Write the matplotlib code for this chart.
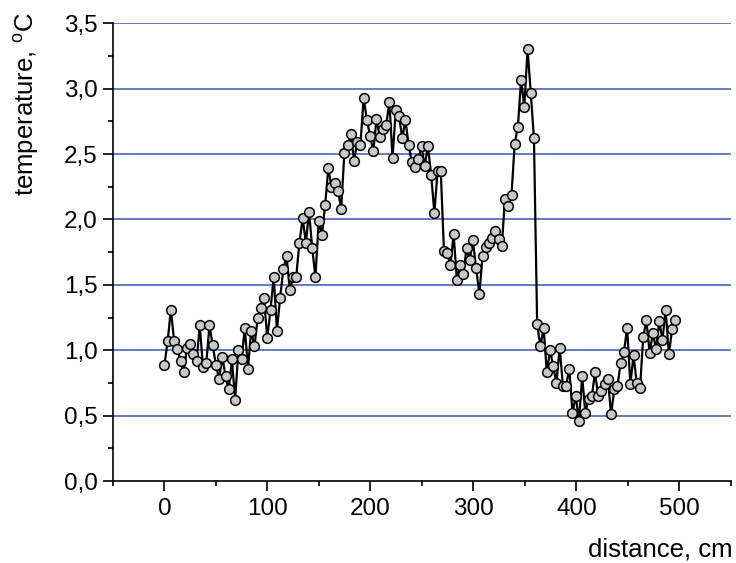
import matplotlib
matplotlib.use("Agg")
import matplotlib.pyplot as plt
from matplotlib.ticker import MultipleLocator, FuncFormatter

plt.rcParams['font.family'] = ['Liberation Sans', 'DejaVu Sans']
plt.rcParams['mathtext.fontset'] = 'custom'
plt.rcParams['mathtext.rm'] = 'Liberation Sans'

# distance along the sample, cm
distance = [
    0.0, 3.1, 6.2, 9.4, 12.5, 15.6, 18.7, 21.8, 25.0, 28.1,
    31.2, 34.3, 37.4, 40.6, 43.7, 46.8, 49.9, 53.0, 56.2, 59.3,
    62.4, 65.5, 68.6, 71.8, 74.9, 78.0, 81.1, 84.2, 87.4, 90.5,
    93.6, 96.7, 99.8, 103.0, 106.1, 109.2, 112.3, 115.4, 118.6, 121.7,
    124.8, 127.9, 131.0, 134.2, 137.3, 140.4, 143.5, 146.6, 149.8, 152.9,
    156.0, 159.1, 162.2, 165.4, 168.5, 171.6, 174.7, 177.8, 181.0, 184.1,
    187.2, 190.3, 193.4, 196.6, 199.7, 202.8, 205.9, 209.0, 212.2, 215.3,
    218.4, 221.5, 224.6, 227.8, 230.9, 234.0, 237.1, 240.2, 243.4, 246.5,
    249.6, 252.7, 255.8, 259.0, 262.1, 265.2, 268.3, 271.4, 274.6, 277.7,
    280.8, 283.9, 287.0, 290.2, 293.3, 296.4, 299.5, 302.6, 305.8, 308.9,
    312.0, 315.1, 318.2, 321.4, 324.5, 327.6, 330.7, 333.8, 337.0, 340.1,
    343.2, 346.3, 349.4, 352.6, 355.7, 358.8, 361.9, 365.0, 368.2, 371.3,
    374.4, 377.5, 380.6, 383.8, 386.9, 390.0, 393.1, 396.2, 399.4, 402.5,
    405.6, 408.7, 411.8, 415.0, 418.1, 421.2, 424.3, 427.4, 430.6, 433.7,
    436.8, 439.9, 443.0, 446.2, 449.3, 452.4, 455.5, 458.6, 461.8, 464.9,
    468.0, 471.1, 474.2, 477.4, 480.5, 483.6, 486.7, 489.8, 493.0, 496.1,
]

# temperature, C
temperature = [
    0.89, 1.07, 1.31, 1.07, 1.01, 0.92, 0.83, 1.02, 1.05, 0.97,
    0.92, 1.19, 0.87, 0.90, 1.19, 1.04, 0.89, 0.78, 0.95, 0.80,
    0.70, 0.93, 0.62, 1.00, 0.93, 1.17, 0.86, 1.15, 1.03, 1.25,
    1.32, 1.40, 1.09, 1.31, 1.56, 1.15, 1.40, 1.62, 1.72, 1.46,
    1.56, 1.56, 1.82, 2.01, 1.82, 2.06, 1.78, 1.56, 1.99, 1.88,
    2.11, 2.39, 2.25, 2.28, 2.22, 2.08, 2.51, 2.57, 2.65, 2.45,
    2.59, 2.57, 2.93, 2.76, 2.64, 2.52, 2.77, 2.63, 2.69, 2.72,
    2.90, 2.47, 2.84, 2.79, 2.62, 2.76, 2.57, 2.44, 2.40, 2.46,
    2.56, 2.41, 2.56, 2.34, 2.05, 2.37, 2.37, 1.76, 1.74, 1.65,
    1.89, 1.54, 1.65, 1.58, 1.78, 1.69, 1.84, 1.63, 1.43, 1.72,
    1.79, 1.82, 1.86, 1.91, 1.85, 1.80, 2.16, 2.10, 2.19, 2.58,
    2.71, 3.07, 2.86, 3.30, 2.97, 2.62, 1.20, 1.03, 1.17, 0.83,
    1.00, 0.88, 0.75, 1.02, 0.73, 0.73, 0.86, 0.52, 0.65, 0.46,
    0.80, 0.52, 0.63, 0.65, 0.83, 0.65, 0.69, 0.74, 0.78, 0.51,
    0.70, 0.73, 0.90, 0.99, 1.17, 0.74, 0.96, 0.75, 0.71, 1.10,
    1.23, 0.98, 1.13, 1.01, 1.22, 1.08, 1.31, 0.97, 1.16, 1.23,
]

y_ticks = [0.0, 0.5, 1.0, 1.5, 2.0, 2.5, 3.0, 3.5]
x_ticks = [0, 100, 200, 300, 400, 500]

fig = plt.figure(figsize=(7.36, 5.63), dpi=100)
ax = fig.add_axes([0.1535, 0.1456, 0.8395, 0.813])

# blue horizontal grid
for yv in y_ticks[1:]:
    ax.axhline(yv, color='#3358b8', lw=1.1, zorder=1)

ax.plot(distance, temperature, color='black', lw=1.6, marker='o',
        markersize=7, markerfacecolor='#c8c8c8', markeredgecolor='black',
        markeredgewidth=1.1, zorder=3)

ax.set_xlim(-50, 550)
ax.set_ylim(0, 3.5)
ax.set_xticks(x_ticks)
ax.set_yticks(y_ticks)
ax.xaxis.set_minor_locator(MultipleLocator(50))
ax.yaxis.set_minor_locator(MultipleLocator(0.25))
ax.yaxis.set_major_formatter(FuncFormatter(lambda v, p: f"{v:.1f}".replace('.', ',')))

for s in ['top', 'right']:
    ax.spines[s].set_visible(False)
for s in ['left', 'bottom']:
    ax.spines[s].set_linewidth(1.2)

ax.tick_params(which='major', direction='out', length=7, width=1.2, labelsize=17.5, pad=4)
ax.tick_params(which='minor', direction='out', length=3.8, width=1.2)
ax.tick_params(axis='x', which='major', pad=5)

fig.text(26 / 736, 1 - 12 / 563, r"temperature, $^{\mathrm{o}}$C", rotation=90,
         ha='center', va='top', fontsize=18.5)
fig.text(733 / 736, 1 - 549 / 563, "distance, cm", ha='right', va='center', fontsize=18.5)

fig.savefig("out.png", dpi=100)
